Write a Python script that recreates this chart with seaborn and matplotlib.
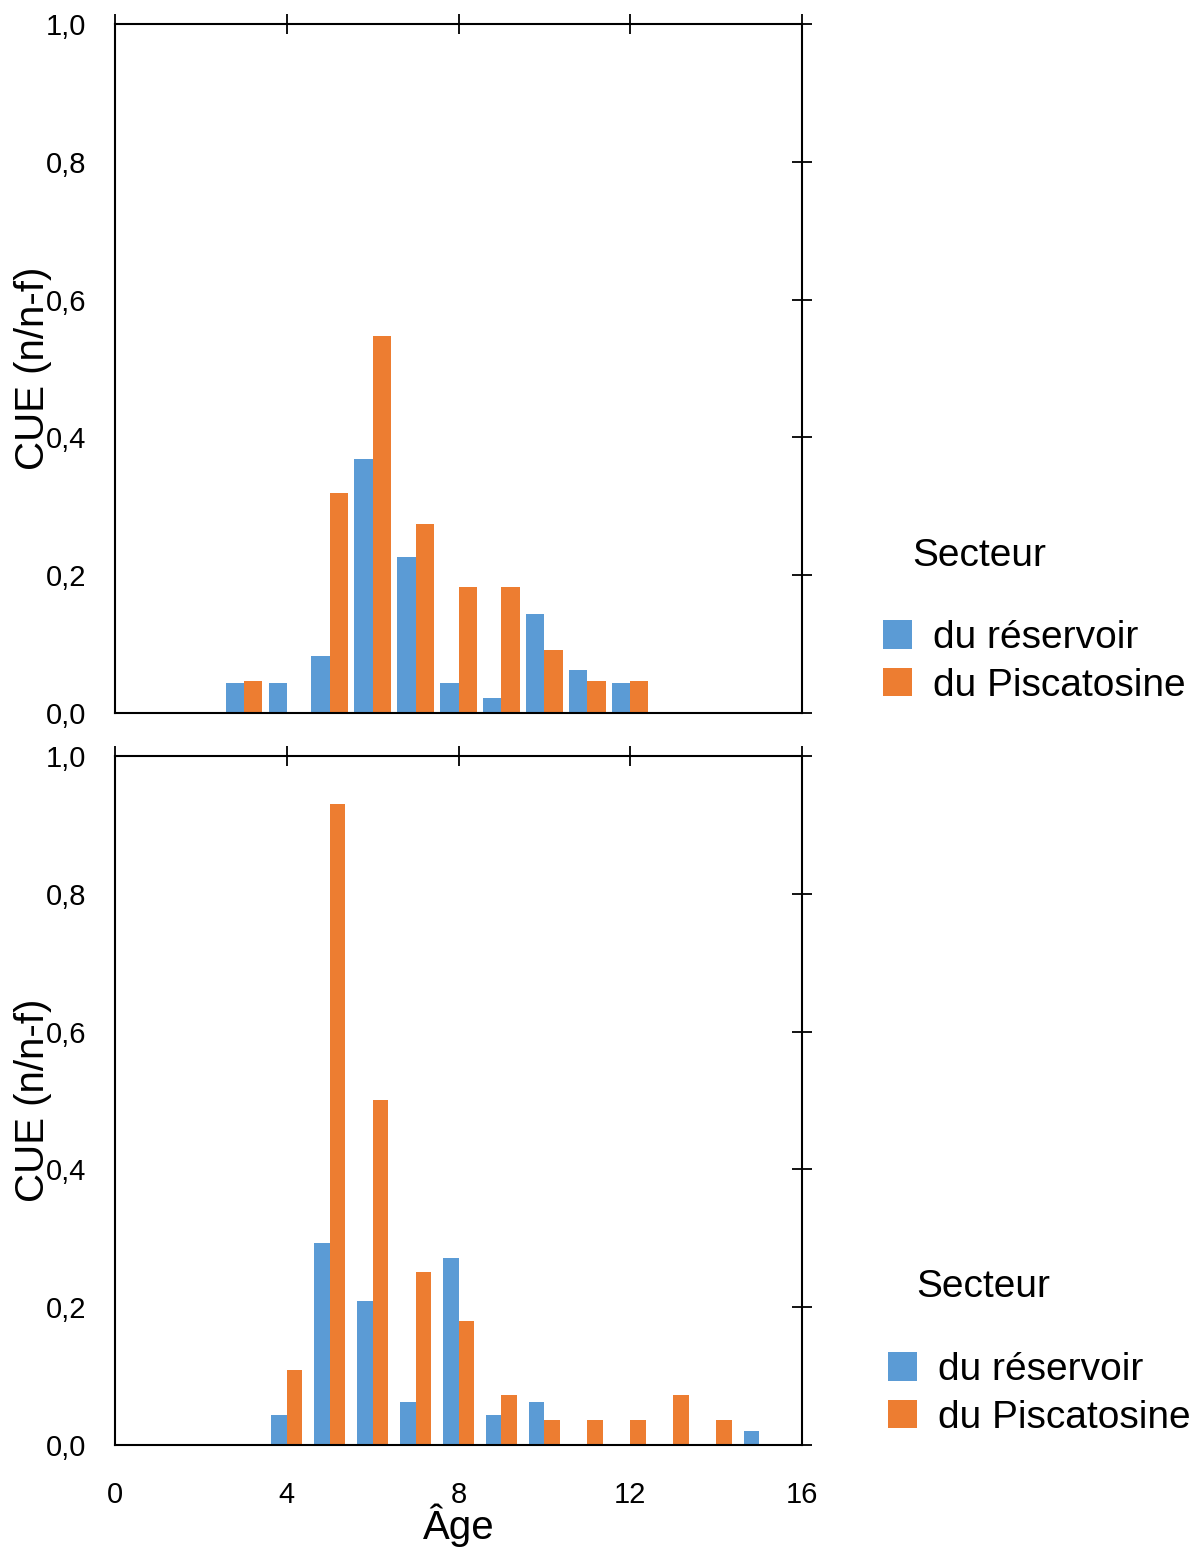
import pandas as pd
import matplotlib
matplotlib.use("Agg")
import matplotlib.pyplot as plt
from matplotlib.patches import Patch
import seaborn as sns

# CUE par âge, deux secteurs, deux panneaux
series_labels = ["du réservoir", "du Piscatosine"]
series_colors = ["#5B9BD5", "#ED7D31"]

ages_top = [3, 4, 5, 6, 7, 8, 9, 10, 11, 12]
reservoir_top = [0.043, 0.043, 0.083, 0.369, 0.226, 0.043, 0.022, 0.144, 0.063, 0.043]
piscatosine_top = [0.047, 0.0, 0.320, 0.547, 0.274, 0.183, 0.183, 0.092, 0.047, 0.047]

ages_bottom = [4, 5, 6, 7, 8, 9, 10, 11, 12, 13, 14, 15]
reservoir_bottom = [0.043, 0.293, 0.209, 0.063, 0.272, 0.043, 0.063, 0.0, 0.0, 0.0, 0.0, 0.021]
piscatosine_bottom = [0.109, 0.930, 0.501, 0.251, 0.180, 0.073, 0.037, 0.037, 0.037, 0.073, 0.037, 0.0]

x_ticks = [0, 4, 8, 12, 16]
x_tick_labels = ["0", "4", "8", "12", "16"]
y_ticks = [0.0, 0.2, 0.4, 0.6, 0.8, 1.0]
y_tick_labels = ["0,0", "0,2", "0,4", "0,6", "0,8", "1,0"]


def to_long(ages, res, pisc):
    n = len(ages)
    return pd.DataFrame({
        "Age": ages + ages,
        "CUE": res + pisc,
        "Secteur": [series_labels[0]] * n + [series_labels[1]] * n,
    })


def style_axis(ax, show_xlabels):
    ax.set_xlim(0, 16)
    ax.set_ylim(0, 1)
    ax.set_xticks(x_ticks)
    ax.set_xticklabels(x_tick_labels if show_xlabels else [""] * len(x_ticks))
    ax.set_yticks(y_ticks)
    ax.set_yticklabels(y_tick_labels)
    ax.tick_params(axis="both", direction="inout", length=14.4, width=1.3,
                   colors="black", labelcolor="black", labelsize=21,
                   top=True, right=True, labeltop=False, labelright=False,
                   labelbottom=show_xlabels)
    ax.tick_params(axis="y", pad=13.5)
    ax.tick_params(axis="x", pad=19)
    for s in ax.spines.values():
        s.set_visible(True)
        s.set_color("black")
        s.set_linewidth(1.5)
    ax.set_ylabel("CUE (n/n-f)", fontsize=29, color="black")
    ax.yaxis.set_label_coords(-0.092, 0.5)
    ax.grid(False)


def main():
    sns.set_theme(style="white")
    plt.rcParams["font.family"] = ["Liberation Sans", "DejaVu Sans"]

    fig = plt.figure(figsize=(12.02, 15.48), dpi=100)
    ax_top = fig.add_axes([115 / 1202, 835 / 1548, 687 / 1202, 689 / 1548])
    ax_bot = fig.add_axes([115 / 1202, 103 / 1548, 687 / 1202, 689 / 1548])

    panels = [
        (ax_top, to_long(ages_top, reservoir_top, piscatosine_top), 0.85, False, 883, 912, 556, 620),
        (ax_bot, to_long(ages_bottom, reservoir_bottom, piscatosine_bottom), 0.72, True, 888, 916, 1287, 1352),
    ]

    for ax, df, w, show_x, leg_x, title_x, title_y, leg_y in panels:
        sns.barplot(data=df, x="Age", y="CUE", hue="Secteur", hue_order=series_labels,
                    palette=series_colors, saturation=1, native_scale=True, width=w,
                    linewidth=0, errorbar=None, legend=False, ax=ax)
        style_axis(ax, show_x)

        handles = [Patch(facecolor=c, edgecolor="none") for c in series_colors]
        leg = ax.legend(handles, series_labels, loc="upper left",
                        bbox_to_anchor=(leg_x / 1202, 1 - leg_y / 1548),
                        bbox_transform=fig.transFigure, frameon=False, fontsize=28,
                        handlelength=0.75, handleheight=0.75, handletextpad=0.53,
                        labelspacing=0.3, borderpad=0, borderaxespad=0)
        for t in leg.get_texts():
            t.set_color("black")
        fig.text(title_x / 1202, 1 - title_y / 1548, "Secteur", fontsize=28,
                 ha="left", va="center", color="black")

    ax_top.set_xlabel("")
    ax_bot.set_xlabel("Âge", fontsize=29, color="black")
    ax_bot.xaxis.set_label_coords(0.5, -0.085)

    fig.savefig("out.png", dpi=100)
    plt.close(fig)


if __name__ == "__main__":
    main()
